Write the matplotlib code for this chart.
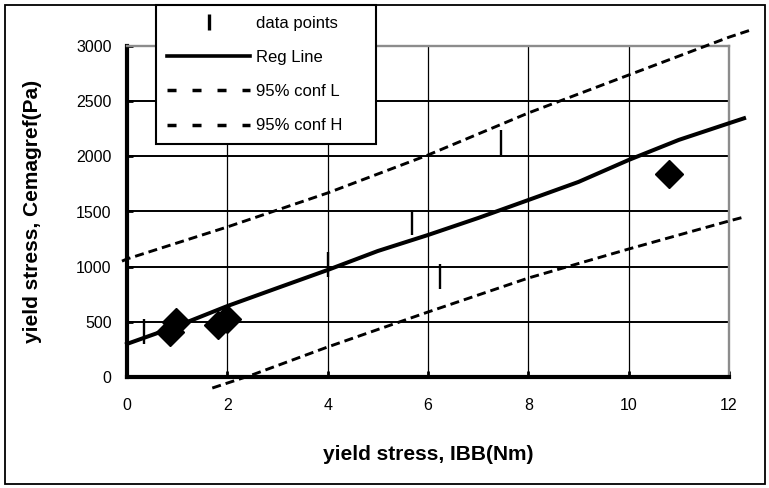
import matplotlib
matplotlib.use('Agg')
import matplotlib.pyplot as plt
from matplotlib.lines import Line2D
from matplotlib.patches import Rectangle

plt.rcParams['font.family'] = ['Liberation Sans', 'DejaVu Sans']
plt.rcParams['lines.scale_dashes'] = False

# measured points (vertical bar markers)
data_x = [0.34, 4.0, 5.68, 6.23, 7.45]
data_y = [420, 1024, 1405, 915, 2130]

# diamond markers
dia_x = [0.85, 0.97, 1.81, 1.99, 10.8]
dia_y = [408, 498, 471, 526, 1840]

# regression line
reg_x = [0, 1, 2, 3, 4, 5, 6, 7, 8, 9, 10, 11, 12, 12.3]
reg_y = [300, 462, 643, 807, 970, 1142, 1287, 1441, 1604, 1768, 1967, 2149, 2300, 2345]

# 95% confidence bands
confL_x = [1.7, 2.5, 4, 6, 8, 10, 12, 12.3]
confL_y = [-100, 20, 272, 589, 897, 1160, 1414, 1450]
confH_x = [-0.1, 0, 2, 4, 6, 8, 10, 12, 12.4]
confH_y = [1050, 1070, 1360, 1668, 2012, 2393, 2737, 3080, 3140]

xticks = [0, 2, 4, 6, 8, 10, 12]
yticks = [0, 500, 1000, 1500, 2000, 2500, 3000]

fig = plt.figure(figsize=(7.69, 4.88), dpi=100)
ax = fig.add_axes([127/769, 111/488, 602/769, 331/488])

DASH = (0, (6.5, 3.6))
ax.plot(reg_x, reg_y, color='black', lw=2.9, clip_on=False, zorder=4)
ax.plot(confL_x, confL_y, color='black', lw=2.1, ls=DASH, clip_on=False, zorder=4)
ax.plot(confH_x, confH_y, color='black', lw=2.1, ls=DASH, clip_on=False, zorder=4)
ax.plot(data_x, data_y, ls='none', marker='|', ms=18, mew=1.7, color='black',
        clip_on=False, zorder=5)
ax.plot(dia_x, dia_y, ls='none', marker='D', ms=14, color='black',
        clip_on=False, zorder=5)

ax.set_xlim(0, 12)
ax.set_ylim(0, 3000)
ax.set_xticks(xticks)
ax.set_yticks(yticks)
ax.set_axisbelow(True)
ax.grid(axis='y', color='black', lw=1.4)
ax.grid(axis='x', color='black', lw=0.9)

for s in ['left', 'bottom']:
    ax.spines[s].set_linewidth(3)
    ax.spines[s].set_color('black')
for s in ['top', 'right']:
    ax.spines[s].set_linewidth(1.7)
    ax.spines[s].set_color('#8c8c8c')

ax.tick_params(direction='in', length=4, width=2, labelsize=11.5)
ax.tick_params(axis='x', pad=15)
ax.tick_params(axis='y', pad=11)
ax.tick_params(top=False, right=False)

ax.set_xlabel('yield stress, IBB(Nm)', fontsize=15, fontweight='bold', va='top')
ax.xaxis.set_label_coords(0.5, -0.205)
ax.set_ylabel('yield stress, Cemagref(Pa)', fontsize=15, fontweight='bold')
ax.yaxis.set_label_coords(-0.141, 0.5)

handles = [
    Line2D([], [], ls='none', marker='|', ms=11, mew=2.4, color='black'),
    Line2D([], [], color='black', lw=2.6),
    Line2D([], [], color='black', lw=2.5, ls=(0, (6.5, 11.5))),
    Line2D([], [], color='black', lw=2.5, ls=(0, (6.5, 11.5))),
]
labels = ['data points', 'Reg Line', '95% conf L', '95% conf H']
leg = ax.legend(handles, labels, loc='upper left', mode='expand',
                bbox_to_anchor=(156/769, 1 - 147/488, 220/769, 142/488),
                bbox_transform=fig.transFigure, fontsize=12,
                handlelength=5.0, handletextpad=0.35, labelspacing=1.15,
                borderpad=0.65, borderaxespad=0, fancybox=False,
                framealpha=1, edgecolor='black')
leg.get_frame().set_linewidth(1.5)
leg.set_zorder(10)

# outer chart border
fig.patches.append(Rectangle((5/769, 4/488), 760/769, 479/488, fill=False,
                             lw=1.3, edgecolor='black',
                             transform=fig.transFigure, figure=fig))

plt.savefig('out.png', dpi=100, facecolor='white')
